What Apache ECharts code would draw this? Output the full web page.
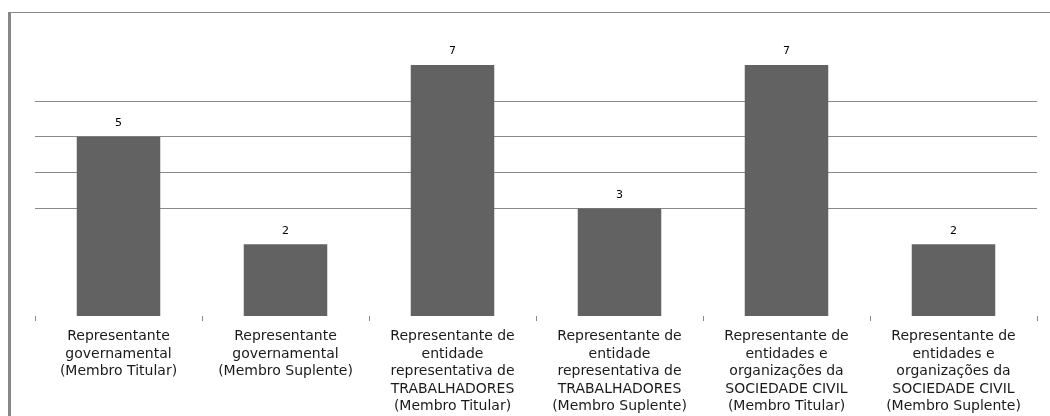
<!DOCTYPE html>
<html>
<head>
<meta charset="utf-8">
<script src="https://cdn.jsdelivr.net/npm/echarts@6/dist/echarts.min.js"></script>
<style>
  html, body { margin: 0; padding: 0; background: #ffffff; }
  #chart { width: 1050px; height: 416px; }
</style>
</head>
<body>
<div id="chart"></div>
<script>
// Categories of council members and how many seats each holds
const categories = [
  'Representante\ngovernamental\n(Membro Titular)',
  'Representante\ngovernamental\n(Membro Suplente)',
  'Representante de\nentidade\nrepresentativa de\nTRABALHADORES\n(Membro Titular)',
  'Representante de\nentidade\nrepresentativa de\nTRABALHADORES\n(Membro Suplente)',
  'Representante de\nentidades e\norganizações da\nSOCIEDADE CIVIL\n(Membro Titular)',
  'Representante de\nentidades e\norganizações da\nSOCIEDADE CIVIL\n(Membro Suplente)'
];
const seats = [5, 2, 7, 3, 7, 2];

// Value-axis range; only the middle gridlines are drawn
const yMin = 0;
const yMax = 7;
const yStep = 1;
const gridColors = ['transparent', 'transparent', 'transparent', '#898989', '#898989', '#898989', '#898989', 'transparent'];

const chart = echarts.init(document.getElementById('chart'), null, { renderer: 'canvas' });

chart.setOption({
  animation: false,
  backgroundColor: '#ffffff',
  grid: { left: 35, right: 13, top: 65, bottom: 100, containLabel: false },
  graphic: [
    { type: 'rect', shape: { x: 8, y: 12, width: 3, height: 404 }, style: { fill: '#878787' }, silent: true },
    { type: 'rect', shape: { x: 8, y: 12, width: 1042, height: 1 }, style: { fill: '#878787' }, silent: true }
  ],
  xAxis: {
    type: 'category',
    data: categories,
    axisLine: { show: false },
    axisTick: {
      show: true,
      length: 5,
      lineStyle: { color: '#8a8a8a', width: 1 },
      interval: 0
    },
    axisLabel: {
      interval: 0,
      margin: 12,
      color: '#1a1a1a',
      fontFamily: 'DejaVu Sans',
      fontSize: 14,
      lineHeight: 17.5,
      align: 'center',
      verticalAlign: 'top'
    }
  },
  yAxis: {
    type: 'value',
    min: yMin,
    max: yMax,
    interval: yStep,
    axisLine: { show: false },
    axisTick: { show: false },
    axisLabel: { show: false },
    splitLine: { show: true, lineStyle: { color: gridColors, width: 1 } }
  },
  series: [{
    type: 'bar',
    data: seats,
    barWidth: '50%',
    itemStyle: { color: '#626262' },
    label: {
      show: true,
      position: 'top',
      distance: 8,
      color: '#000000',
      fontFamily: 'DejaVu Sans',
      fontSize: 11
    }
  }]
});
</script>
</body>
</html>
